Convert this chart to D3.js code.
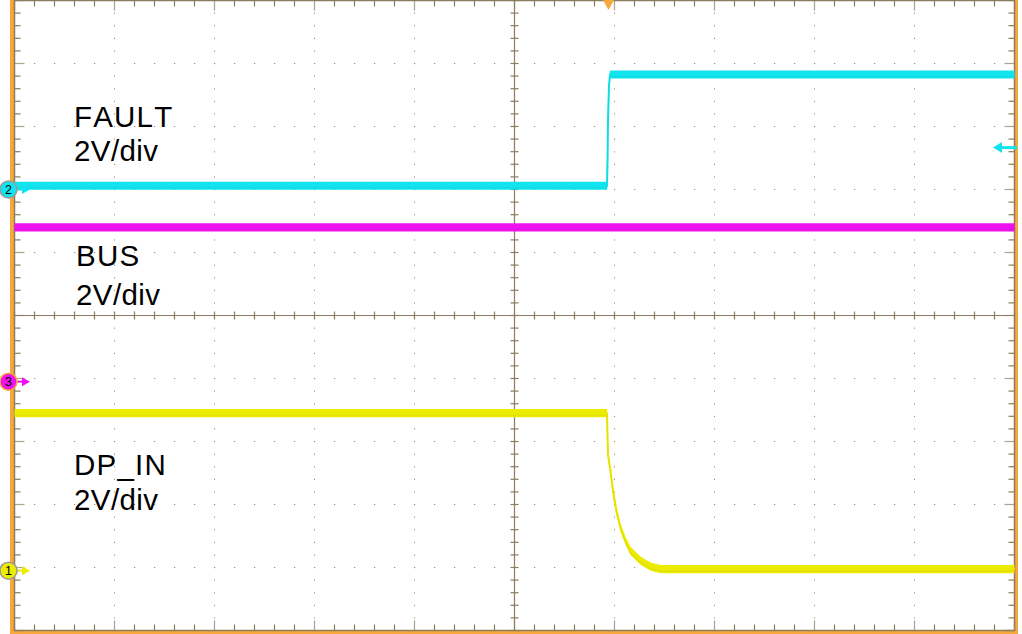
<!DOCTYPE html>
<html>
<head>
<meta charset="utf-8">
<script src="https://cdn.jsdelivr.net/npm/d3@7"></script>
<style>
  html, body { margin: 0; padding: 0; background: #ffffff; }
  svg { display: block; }
</style>
</head>
<body>
<div id="chart"></div>
<script>
// ---------- data (time in divisions from screen centre, values in volts) ----------
const channelNames = ["FAULT", "BUS", "DP_IN"];
const channelScales = ["2V/div", "2V/div", "2V/div"];
const voltsPerDiv = 2;

// Channel ground offsets (divisions from centre)
const offsetFault = 2.0;   // CH2
const offsetBus = -1.05;   // CH3
const offsetDpIn = -4.05;  // CH1

const faultTime = [-5, 0.925, 0.93, 0.935, 0.945, 0.955, 5];
const faultVolts = [0.12, 0.12, 0.9, 2.2, 3.3, 3.65, 3.65];

const busTime = [-5, 5];
const busVolts = [4.9, 4.9];

const dpInTime = [-5, 0.925, 0.93, 0.935, 0.96, 0.99, 1.02, 1.06, 1.11, 1.16, 1.26, 1.36, 1.46, 5];
const dpInVolts = [5.0, 5.0, 4.3, 3.7, 3.17, 2.44, 1.9, 1.37, 0.95, 0.63, 0.32, 0.13, 0.05, 0.05];

const triggerTime = 0.94;       // trigger position marker (div)
const triggerLevelVolts = 1.33; // CH2 trigger level

// ---------- layout ----------
const W = 1022, H = 634;
const plot = { left: 14.5, right: 1014.5, top: 0.5, bottom: 630.5 };
const colors = {
  grid: "#8b7d5e",
  dots: "#9c9070",
  frame: "#f7a83c",
  cyan: "#12e4ee",
  magenta: "#ee12ee",
  yellow: "#ecec00"
};

const x = d3.scaleLinear().domain([-5, 5]).range([plot.left, plot.right]);
const y = d3.scaleLinear().domain([-5, 5]).range([plot.bottom, plot.top]);

const svg = d3.select("#chart").append("svg")
  .attr("width", W).attr("height", H)
  .attr("viewBox", `0 0 ${W} ${H}`);

svg.append("rect").attr("width", W).attr("height", H).attr("fill", "#ffffff");

// orange frame
svg.append("rect").attr("x", 10).attr("y", 0).attr("width", 4).attr("height", H).attr("fill", colors.frame);
svg.append("rect").attr("x", 1015).attr("y", 0).attr("width", 3).attr("height", H).attr("fill", colors.frame);
svg.append("rect").attr("x", 10).attr("y", 631).attr("width", 1008).attr("height", 3).attr("fill", colors.frame);

const gGrid = svg.append("g");

// dotted grid
const majors = d3.range(-4, 5).filter(d => d !== 0);
const minors = d3.range(-25, 26).map(d => d / 5);
majors.forEach(m => {
  minors.forEach(n => {
    gGrid.append("rect").attr("x", x(m) - 0.5).attr("y", y(n) - 0.5)
      .attr("width", 1).attr("height", 1.2).attr("fill", colors.dots);
    gGrid.append("rect").attr("x", x(n) - 0.5).attr("y", y(m) - 0.5)
      .attr("width", 1.2).attr("height", 1).attr("fill", colors.dots);
  });
});

// centre axes
gGrid.append("line").attr("x1", x(0)).attr("x2", x(0)).attr("y1", plot.top).attr("y2", plot.bottom)
  .attr("stroke", colors.grid).attr("stroke-width", 1.2);
gGrid.append("line").attr("x1", plot.left).attr("x2", plot.right).attr("y1", y(0)).attr("y2", y(0))
  .attr("stroke", colors.grid).attr("stroke-width", 1.2);

// border
gGrid.append("rect").attr("x", plot.left).attr("y", plot.top)
  .attr("width", plot.right - plot.left).attr("height", plot.bottom - plot.top)
  .attr("fill", "none").attr("stroke", colors.grid).attr("stroke-width", 1.5);

// ticks
minors.forEach(n => {
  const isMajor = Math.abs(n - Math.round(n)) < 1e-6;
  const len = isMajor ? 10 : 6;
  const op = isMajor ? 0.7 : 1;
  gGrid.append("line").attr("x1", x(n)).attr("x2", x(n)).attr("y1", plot.top).attr("y2", plot.top + len)
    .attr("stroke", colors.grid).attr("stroke-opacity", op).attr("stroke-width", 1.2);
  gGrid.append("line").attr("x1", x(n)).attr("x2", x(n)).attr("y1", plot.bottom).attr("y2", plot.bottom - len)
    .attr("stroke", colors.grid).attr("stroke-opacity", op).attr("stroke-width", 1.2);
  gGrid.append("line").attr("y1", y(n)).attr("y2", y(n)).attr("x1", plot.left).attr("x2", plot.left + len)
    .attr("stroke", colors.grid).attr("stroke-opacity", op).attr("stroke-width", 1.2);
  gGrid.append("line").attr("y1", y(n)).attr("y2", y(n)).attr("x1", plot.right).attr("x2", plot.right - len)
    .attr("stroke", colors.grid).attr("stroke-opacity", op).attr("stroke-width", 1.2);
  gGrid.append("line").attr("x1", x(n)).attr("x2", x(n)).attr("y1", y(0) - 4).attr("y2", y(0) + 4)
    .attr("stroke", colors.grid).attr("stroke-width", 1.2);
  gGrid.append("line").attr("y1", y(n)).attr("y2", y(n)).attr("x1", x(0) - 4).attr("x2", x(0) + 4)
    .attr("stroke", colors.grid).attr("stroke-width", 1.2);
});

// ---------- traces ----------
const halfBand = 0.065; // divisions (~4 px)
function drawTrace(times, volts, offset, color) {
  const pts = times.map((t, i) => ({ t, v: offset + volts[i] / voltsPerDiv }));
  const area = d3.area()
    .x(d => x(d.t))
    .y0(d => y(d.v - halfBand))
    .y1(d => y(d.v + halfBand));
  svg.append("path").datum(pts).attr("d", area).attr("fill", color);
  const line = d3.line().x(d => x(d.t)).y(d => y(d.v));
  svg.append("path").datum(pts).attr("d", line)
    .attr("fill", "none").attr("stroke", color).attr("stroke-width", 2);
  svg.append("path").datum(pts).attr("d", line)
    .attr("fill", "none").attr("stroke", d3.color(color).darker(0.4)).attr("stroke-width", 1.5)
    .attr("stroke-opacity", 0.3).attr("transform", "translate(0,2)");
}
drawTrace(busTime, busVolts, offsetBus, colors.magenta);
drawTrace(faultTime, faultVolts, offsetFault, colors.cyan);
drawTrace(dpInTime, dpInVolts, offsetDpIn, colors.yellow);

// ---------- labels ----------
const labelFont = "'Liberation Sans', Arial, sans-serif";
const labelPos = [
  { x: 74, y1: 127, y2: 161 },
  { x: 76, y1: 266, y2: 305 },
  { x: 74, y1: 475, y2: 510 }
];
channelNames.forEach((name, i) => {
  const p = labelPos[i];
  svg.append("text").attr("x", p.x).attr("y", p.y1).text(name)
    .attr("font-family", labelFont).attr("font-size", 29.5).attr("fill", "#000")
    .style("font-kerning", "none").attr("letter-spacing", 1.2);
  svg.append("text").attr("x", p.x).attr("y", p.y2).text(channelScales[i])
    .attr("font-family", labelFont).attr("font-size", 29.5).attr("fill", "#000")
    .style("font-kerning", "none").attr("letter-spacing", 0.4);
});

// ---------- channel ground markers ----------
const markers = [
  { ch: "2", offset: offsetFault, color: colors.cyan, ring: "#9a9a9a" },
  { ch: "3", offset: offsetBus, color: colors.magenta, ring: "#f7a83c" },
  { ch: "1", offset: offsetDpIn, color: colors.yellow, ring: "#9a9a9a" }
];
markers.forEach(m => {
  const cy = y(m.offset);
  const g = svg.append("g");
  g.append("line").attr("x1", 14).attr("x2", 24).attr("y1", cy).attr("y2", cy)
    .attr("stroke", m.color).attr("stroke-width", 2);
  g.append("path").attr("d", `M22,${cy - 4.5} L30,${cy} L22,${cy + 4.5} Z`).attr("fill", m.color);
  g.append("circle").attr("cx", 8.5).attr("cy", cy).attr("r", 8.5)
    .attr("fill", m.color).attr("stroke", m.ring).attr("stroke-width", 1.5);
  g.append("text").attr("x", 8.5).attr("y", cy + 4.5).attr("text-anchor", "middle")
    .attr("font-family", labelFont).attr("font-size", 12.5).attr("fill", "#000").text(m.ch);
});

// trigger position marker (top)
const tx = x(triggerTime);
svg.append("path").attr("d", `M${tx - 5.5},0 L${tx + 5.5},0 L${tx},10 Z`).attr("fill", colors.frame);

// trigger level arrow (right)
const ty = y(offsetFault + triggerLevelVolts / voltsPerDiv);
svg.append("line").attr("x1", 1000).attr("x2", 1017).attr("y1", ty).attr("y2", ty)
  .attr("stroke", colors.cyan).attr("stroke-width", 3);
svg.append("path").attr("d", `M993,${ty} L1002,${ty - 5.5} L1002,${ty + 5.5} Z`).attr("fill", colors.cyan);
</script>
</body>
</html>
